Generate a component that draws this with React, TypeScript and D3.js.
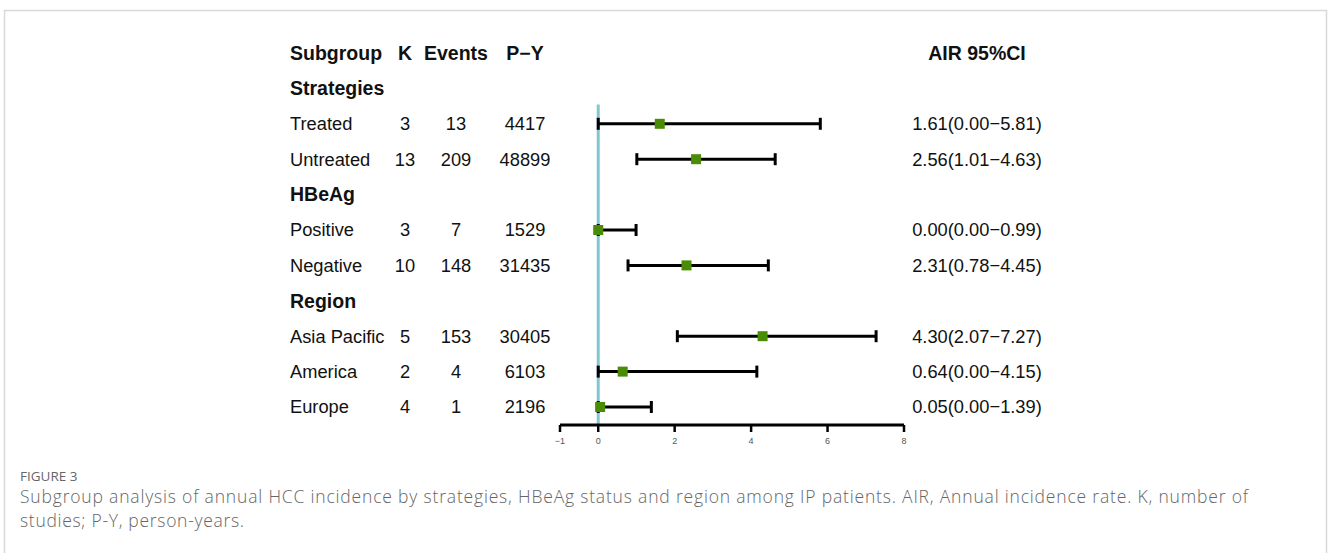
import React, { useEffect, useRef } from 'react';
import * as d3 from 'd3';

const groups = ['Strategies', 'HBeAg', 'Region'];
const subgroups = ['Treated', 'Untreated', 'Positive', 'Negative', 'Asia Pacific', 'America', 'Europe'];
const groupOf = ['Strategies', 'Strategies', 'HBeAg', 'HBeAg', 'Region', 'Region', 'Region'];
const kValues = [3, 13, 3, 10, 5, 2, 4];
const events = [13, 209, 7, 148, 153, 4, 1];
const personYears = [4417, 48899, 1529, 31435, 30405, 6103, 2196];
const air = [1.61, 2.56, 0.0, 2.31, 4.3, 0.64, 0.05];
const lower = [0.0, 1.01, 0.0, 0.78, 2.07, 0.0, 0.0];
const upper = [5.81, 4.63, 0.99, 4.45, 7.27, 4.15, 1.39];
const xTicks = [-1, 0, 2, 4, 6, 8];

const fmt = d3.format('.2f');
const minus = (s: string) => s.replace(/-/g, '\u2212');

const App = () => {
  const ref = useRef<SVGSVGElement>(null);

  useEffect(() => {
    const svg = d3.select(ref.current);
    svg.selectAll('*').remove();

    // frame
    svg.append('path')
      .attr('d', 'M4.5,553 V10.5 H1326.5 V553')
      .attr('fill', 'none')
      .attr('stroke', '#d9d9d9')
      .attr('stroke-width', 1.5);

    // build the row list: group header then its members
    const rows: { type: string; i?: number; label: string }[] = [];
    groups.forEach(g => {
      rows.push({ type: 'group', label: g });
      subgroups.forEach((s, i) => {
        if (groupOf[i] === g) rows.push({ type: 'item', i, label: s });
      });
    });

    const y = d3.scaleLinear().domain([-1, rows.length - 1]).range([53, 407]);
    const x = d3.scaleLinear().domain([-1, 8]).range([560, 904]);

    const font = "'Liberation Sans', Arial, sans-serif";
    const g = svg.append('g').style('font-family', font).attr('fill', '#111');

    const colK = 405, colE = 456, colPY = 525, colAIR = 977;
    const bold = '19.5px', reg = '18.3px';

    // header
    const head = g.append('g').style('font-size', bold).style('font-weight', 'bold');
    head.append('text').attr('x', 290).attr('y', y(-1)).attr('dy', '0.35em').text('Subgroup');
    head.append('text').attr('x', colK).attr('y', y(-1)).attr('dy', '0.35em').attr('text-anchor', 'middle').text('K');
    head.append('text').attr('x', colE).attr('y', y(-1)).attr('dy', '0.35em').attr('text-anchor', 'middle').text('Events');
    head.append('text').attr('x', colPY).attr('y', y(-1)).attr('dy', '0.35em').attr('text-anchor', 'middle').text('P\u2212Y');
    head.append('text').attr('x', colAIR).attr('y', y(-1)).attr('dy', '0.35em').attr('text-anchor', 'middle').text('AIR 95%CI');

    rows.forEach((r, ri) => {
      const yy = y(ri);
      if (r.type === 'group') {
        g.append('text').attr('x', 290).attr('y', yy).attr('dy', '0.35em')
          .style('font-size', bold).style('font-weight', 'bold').text(r.label);
        return;
      }
      const i = r.i as number;
      const t = g.append('g').style('font-size', reg);
      t.append('text').attr('x', 290).attr('y', yy).attr('dy', '0.35em').text(r.label);
      t.append('text').attr('x', colK).attr('y', yy).attr('dy', '0.35em').attr('text-anchor', 'middle').text(kValues[i]);
      t.append('text').attr('x', colE).attr('y', yy).attr('dy', '0.35em').attr('text-anchor', 'middle').text(events[i]);
      t.append('text').attr('x', colPY).attr('y', yy).attr('dy', '0.35em').attr('text-anchor', 'middle').text(personYears[i]);
      t.append('text').attr('x', colAIR).attr('y', yy).attr('dy', '0.35em').attr('text-anchor', 'middle')
        .text(`${fmt(air[i])}(${fmt(lower[i])}\u2212${fmt(upper[i])})`);
    });

    // reference line at 0
    g.append('line')
      .attr('x1', x(0)).attr('x2', x(0))
      .attr('y1', y(0) + 16).attr('y2', 425)
      .attr('stroke', '#7fc7d3').attr('stroke-width', 3);

    // CIs and points
    rows.forEach((r, ri) => {
      if (r.type !== 'item') return;
      const i = r.i as number;
      const yy = y(ri);
      g.append('line').attr('x1', x(lower[i])).attr('x2', x(upper[i]))
        .attr('y1', yy).attr('y2', yy).attr('stroke', '#000').attr('stroke-width', 3);
      [lower[i], upper[i]].forEach(v => {
        g.append('line').attr('x1', x(v)).attr('x2', x(v))
          .attr('y1', yy - 6).attr('y2', yy + 6).attr('stroke', '#000').attr('stroke-width', 3);
      });
      g.append('rect').attr('x', x(air[i]) - 5).attr('y', yy - 5)
        .attr('width', 10).attr('height', 10).attr('fill', '#4a8c06');
    });

    // x axis
    const ax = svg.append('g').attr('transform', 'translate(0,425)');
    ax.append('line').attr('x1', x(-1)).attr('x2', x(8)).attr('stroke', '#000').attr('stroke-width', 3);
    xTicks.forEach(t => {
      ax.append('line').attr('x1', x(t)).attr('x2', x(t)).attr('y1', 0).attr('y2', 7)
        .attr('stroke', '#000').attr('stroke-width', 2.5);
      ax.append('text').attr('x', x(t)).attr('y', 19).attr('text-anchor', 'middle')
        .style('font-family', font).style('font-size', '9px').attr('fill', '#555')
        .text(minus(String(t)));
    });

    // caption
    const cap = svg.append('g').style('font-family', "'Open Sans', sans-serif").attr('fill', '#666');
    cap.append('text').attr('x', 20).attr('y', 481).style('font-size', '13.5px').text('FIGURE 3');
    cap.append('text').attr('x', 20).attr('y', 503).style('font-size', '17.5px').style('font-weight', 300)
      .attr('textLength', 1228).attr('lengthAdjust', 'spacing')
      .text('Subgroup analysis of annual HCC incidence by strategies, HBeAg status and region among IP patients. AIR, Annual incidence rate. K, number of');
    cap.append('text').attr('x', 20).attr('y', 527).style('font-size', '17.5px').style('font-weight', 300)
      .attr('textLength', 224).attr('lengthAdjust', 'spacing')
      .text('studies; P-Y, person-years.');
  }, []);

  return (
    <svg ref={ref} width={1328} height={553}
      style={{ position: 'absolute', left: 0, top: 0, background: '#fff' }} />
  );
};

export default App;
